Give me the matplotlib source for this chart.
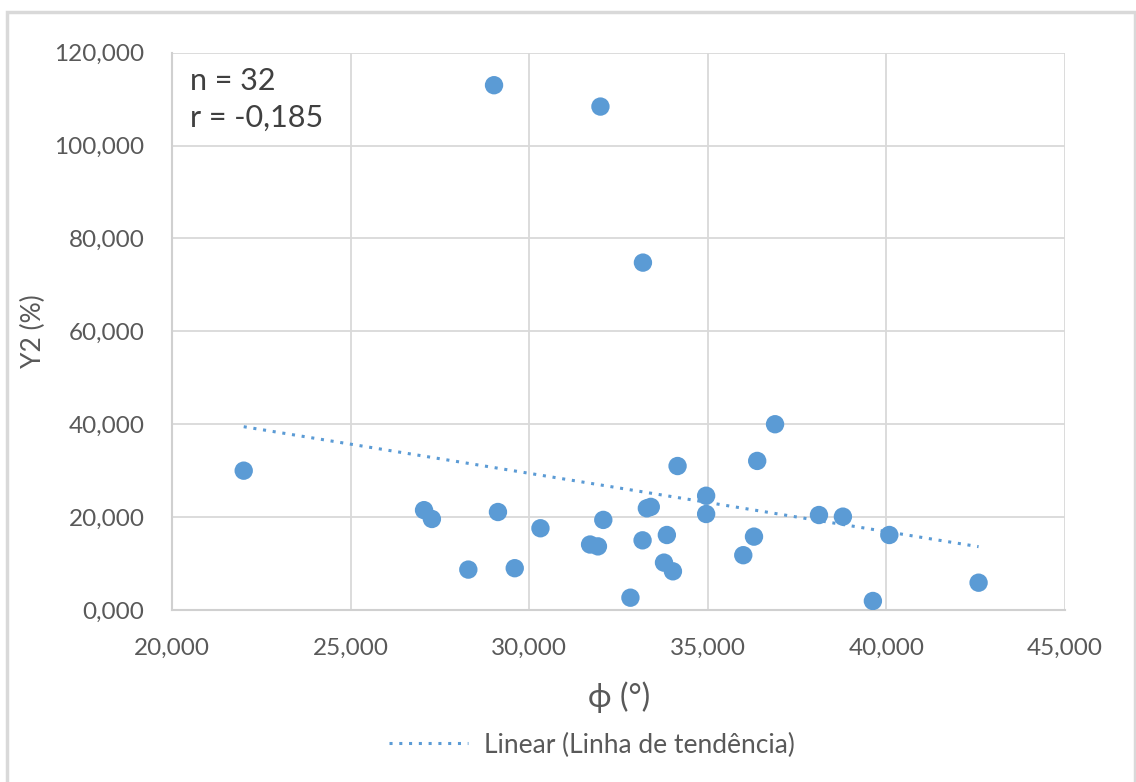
import numpy as np
import matplotlib
matplotlib.use("Agg")
import matplotlib.pyplot as plt
from matplotlib.patches import Rectangle
from matplotlib.lines import Line2D
from matplotlib.ticker import FuncFormatter

plt.rcParams['font.family'] = ['Lato', 'DejaVu Sans']

# Friction angle (degrees) and Y2 (%) for each sample
phi = [22.00, 27.05, 27.27, 29.12, 28.29, 29.59, 30.31, 31.70, 31.92, 32.07,
       32.83, 33.17, 33.29, 33.40, 34.15, 33.85, 33.77, 34.02, 34.95, 34.95,
       36.88, 36.38, 36.29, 35.99, 38.11, 38.78, 40.08, 39.62, 42.58, 29.01,
       31.99, 33.18]
y2 = [30.0, 21.5, 19.6, 21.1, 8.7, 9.0, 17.6, 14.1, 13.7, 19.4,
      2.65, 15.0, 21.9, 22.2, 31.0, 16.15, 10.2, 8.33, 24.6, 20.67,
      40.0, 32.1, 15.8, 11.8, 20.45, 20.1, 16.15, 1.94, 5.88, 113.0,
      108.4, 74.8]

# reported correlation coefficient
r_value = -0.185

x_ticks = [20, 25, 30, 35, 40, 45]
y_ticks = [0, 20, 40, 60, 80, 100, 120]

BLUE = '#5B9BD5'
TEXT = '#595959'
GRID = '#D9D9D9'

W, H = 1136, 782
fig = plt.figure(figsize=(W / 100, H / 100), dpi=100)
fig.patch.set_facecolor('white')

# chart-area frame
fig.patches.append(Rectangle((7 / W, -0.05), (1135 - 7) / W, 1.05 - 12 / H,
                             transform=fig.transFigure, fill=False,
                             edgecolor='#D9D9D9', linewidth=2.5, zorder=0))

ax = fig.add_axes([172.3 / W, 1 - 610 / H, (1065 - 172.3) / W, (610 - 52.7) / H])

ax.scatter(phi, y2, s=175, color=BLUE, edgecolors='none', zorder=3)

# least-squares trend line over the data range
xa = np.array(phi)
ya = np.array(y2)
slope, intercept = np.polyfit(xa, ya, 1)
xs = np.array([xa.min(), xa.max()])
ax.plot(xs, slope * xs + intercept, linestyle=(0, (1, 2.2)), color=BLUE,
        linewidth=2.2, zorder=2)

ax.set_xlim(20, 45)
ax.set_ylim(0, 120)
ax.set_xticks(x_ticks)
ax.set_yticks(y_ticks)
fmt = FuncFormatter(lambda v, p: f"{v:.3f}".replace('.', ','))
ax.xaxis.set_major_formatter(fmt)
ax.yaxis.set_major_formatter(fmt)
ax.tick_params(length=0, labelsize=17.5, labelcolor=TEXT)
ax.tick_params(axis='x', pad=20)
ax.tick_params(axis='y', pad=20)
ax.grid(True, color=GRID, linewidth=1.3)
ax.set_axisbelow(True)
for side in ['top', 'right']:
    ax.spines[side].set_visible(False)
for side in ['left', 'bottom']:
    ax.spines[side].set_color('#D0D0D0')
    ax.spines[side].set_linewidth(1.5)

ax.set_xlabel('ϕ (°)', fontsize=23, color=TEXT, labelpad=16)
ax.set_ylabel('Y2 (%)', fontsize=19, color=TEXT)
ax.yaxis.set_label_coords((46 - 172.3) / (1065 - 172.3), 0.5)

ax.text(0.02, 0.975, f"n = {len(phi)}\nr = {r_value:.3f}".replace('.', ','),
        transform=ax.transAxes, fontsize=22, color='#404040',
        va='top', ha='left', linespacing=1.4)

handle = Line2D([], [], linestyle=(0, (1, 2.2)), color=BLUE, linewidth=2.2)
fig.legend([handle], ['Linear (Linha de tendência)'], loc='center',
           bbox_to_anchor=(592 / W, 1 - 745 / H), frameon=False,
           fontsize=19, labelcolor=TEXT, handlelength=3.0, handletextpad=0.6)

fig.savefig('out.png', dpi=100)
